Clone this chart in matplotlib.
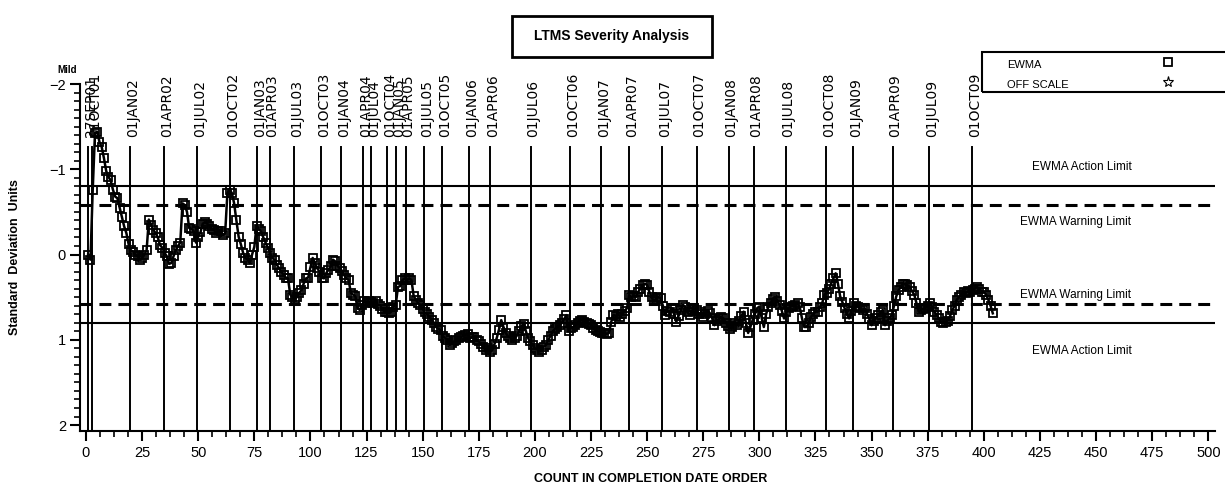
import numpy as np
import matplotlib
matplotlib.use("Agg")
import matplotlib.pyplot as plt
from matplotlib.patches import Rectangle
from matplotlib.lines import Line2D
from matplotlib.ticker import MultipleLocator

# ---------------- data ----------------
ewma = [
    0.00, 0.06, -0.76, -1.42, -1.44, -1.32, -1.26, -1.13, -0.98, -0.91,
    -0.87, -0.76, -0.68, -0.66, -0.55, -0.44, -0.33, -0.25, -0.12, -0.05,
    -0.03, 0.00, 0.02, 0.06, 0.04, 0.00, -0.05, -0.41, -0.35, -0.29,
    -0.25, -0.20, -0.11, -0.08, -0.02, 0.02, 0.11, 0.10, 0.02, -0.05,
    -0.10, -0.14, -0.60, -0.58, -0.50, -0.31, -0.30, -0.27, -0.14, -0.21,
    -0.26, -0.36, -0.38, -0.36, -0.34, -0.30, -0.29, -0.25, -0.27, -0.27,
    -0.23, -0.25, -0.72, -0.76, -0.72, -0.60, -0.40, -0.21, -0.12, -0.02,
    0.04, 0.06, 0.10, 0.00, -0.09, -0.34, -0.30, -0.27, -0.20, -0.14,
    -0.08, -0.02, 0.04, 0.06, 0.12, 0.16, 0.20, 0.24, 0.27, 0.28,
    0.47, 0.50, 0.52, 0.50, 0.45, 0.42, 0.34, 0.28, 0.27, 0.15,
    0.04, 0.10, 0.16, 0.20, 0.27, 0.28, 0.22, 0.18, 0.14, 0.06,
    0.08, 0.13, 0.16, 0.19, 0.24, 0.28, 0.30, 0.45, 0.47, 0.49,
    0.63, 0.65, 0.59, 0.55, 0.57, 0.55, 0.56, 0.57, 0.55, 0.58,
    0.60, 0.64, 0.67, 0.67, 0.69, 0.67, 0.61, 0.59, 0.38, 0.37,
    0.30, 0.28, 0.30, 0.28, 0.30, 0.49, 0.53, 0.57, 0.59, 0.64,
    0.68, 0.70, 0.73, 0.77, 0.80, 0.85, 0.87, 0.89, 0.96, 0.98,
    1.00, 1.06, 1.04, 1.02, 1.00, 0.98, 0.97, 0.95, 0.94, 0.93,
    0.98, 0.97, 0.97, 1.00, 1.02, 1.05, 1.08, 1.12, 1.10, 1.14,
    1.12, 1.05, 0.98, 0.88, 0.77, 0.85, 0.92, 0.96, 0.98, 1.00,
    0.98, 0.95, 0.90, 0.84, 0.81, 0.90, 0.98, 1.02, 1.06, 1.10,
    1.12, 1.14, 1.12, 1.08, 1.06, 1.00, 0.95, 0.90, 0.87, 0.85,
    0.83, 0.80, 0.76, 0.71, 0.90, 0.86, 0.85, 0.83, 0.80, 0.78,
    0.77, 0.79, 0.80, 0.81, 0.83, 0.86, 0.89, 0.90, 0.91, 0.92,
    0.92, 0.93, 0.92, 0.79, 0.71, 0.72, 0.70, 0.73, 0.70, 0.66,
    0.63, 0.48, 0.50, 0.49, 0.50, 0.44, 0.40, 0.36, 0.34, 0.36,
    0.44, 0.50, 0.55, 0.52, 0.50, 0.51, 0.60, 0.71, 0.66, 0.68,
    0.63, 0.70, 0.79, 0.72, 0.65, 0.59, 0.62, 0.68, 0.71, 0.66,
    0.63, 0.65, 0.70, 0.68, 0.73, 0.70, 0.66, 0.69, 0.75, 0.83,
    0.78, 0.76, 0.73, 0.75, 0.80, 0.84, 0.87, 0.85, 0.80, 0.83,
    0.78, 0.72, 0.67, 0.80, 0.92, 0.85, 0.77, 0.70, 0.63, 0.61,
    0.74, 0.85, 0.70, 0.61, 0.57, 0.52, 0.50, 0.54, 0.59, 0.66,
    0.75, 0.68, 0.63, 0.61, 0.60, 0.59, 0.57, 0.62, 0.75, 0.85,
    0.85, 0.80, 0.73, 0.70, 0.67, 0.67, 0.62, 0.57, 0.47, 0.45,
    0.41, 0.34, 0.28, 0.22, 0.34, 0.49, 0.56, 0.63, 0.70, 0.75,
    0.66, 0.57, 0.60, 0.62, 0.63, 0.65, 0.63, 0.70, 0.76, 0.83,
    0.78, 0.74, 0.71, 0.68, 0.65, 0.83, 0.78, 0.74, 0.71, 0.60,
    0.49, 0.42, 0.38, 0.34, 0.35, 0.36, 0.38, 0.43, 0.47, 0.57,
    0.67, 0.65, 0.64, 0.63, 0.60, 0.57, 0.62, 0.67, 0.71, 0.75,
    0.79, 0.80, 0.79, 0.78, 0.72, 0.65, 0.60, 0.53, 0.50, 0.47,
    0.44, 0.45, 0.43, 0.44, 0.42, 0.40, 0.38, 0.41, 0.44, 0.44,
    0.47, 0.53, 0.60, 0.69,
]
count = np.arange(1, len(ewma) + 1)

# calendar reference lines (count position, label)
date_pos = [1.0, 2.8, 19.6, 34.8, 49.6, 64.2, 76.2, 81.9, 92.8, 104.7,
            113.6, 123.6, 127.0, 134.3, 138.1, 142.5, 150.8, 158.6, 170.7, 180.2,
            198.2, 215.7, 229.5, 242.1, 256.7, 272.1, 286.4, 297.5, 311.8, 329.8,
            341.9, 359.5, 375.7, 394.8]
date_lab = ['27SEP01', '01OCT01', '01JAN02', '01APR02', '01JUL02', '01OCT02',
            '01JAN03', '01APR03', '01JUL03', '01OCT03', '01JAN04', '01APR04',
            '01JUL04', '01OCT04', '01JAN05', '01APR05', '01JUL05', '01OCT05',
            '01JAN06', '01APR06', '01JUL06', '01OCT06', '01JAN07', '01APR07',
            '01JUL07', '01OCT07', '01JAN08', '01APR08', '01JUL08', '01OCT08',
            '01JAN09', '01APR09', '01JUL09', '01OCT09']

action_lim = 0.80
warning_lim = 0.585

# ---------------- plot ----------------
plt.rcParams['font.family'] = ['Liberation Sans', 'DejaVu Sans']

W, H = 1225, 491
fig = plt.figure(figsize=(W / 100, H / 100), dpi=100)
ax = fig.add_axes([80 / W, 1 - 431 / H, (1215 - 80) / W, (431 - 84) / H])

ax.set_xlim(-2.67, 503)
ax.set_ylim(2.07, -2.0)

# limit lines
dash = (0, (3.9, 2.3))
ax.axhline(-action_lim, color='k', lw=1.5)
ax.axhline(action_lim, color='k', lw=1.5)
ax.axhline(-warning_lim, color='k', lw=2.2, linestyle=dash)
ax.axhline(warning_lim, color='k', lw=2.2, linestyle=dash)

# date lines and labels
for xp, lab in zip(date_pos, date_lab):
    ax.plot([xp, xp], [-1.26, 2.07], color='k', lw=1.4)
    ax.text(xp + 1.2, -1.38, lab, rotation=90, ha='center', va='bottom',
            fontsize=10, family='DejaVu Sans')

# EWMA series
ax.plot(count, ewma, color='k', lw=1.8, marker='s', ms=6,
        mfc='none', mec='k', mew=1.3)

# limit annotations
ax.text(443.8, -1.03, 'EWMA Action Limit', ha='center', va='center', fontsize=8.5)
ax.text(440.7, -0.38, 'EWMA Warning Limit', ha='center', va='center', fontsize=8.5)
ax.text(440.7, 0.475, 'EWMA Warning Limit', ha='center', va='center', fontsize=8.5)
ax.text(443.8, 1.13, 'EWMA Action Limit', ha='center', va='center', fontsize=8.5)

# axes styling
for s in ['top', 'right']:
    ax.spines[s].set_visible(False)
ax.spines['left'].set_linewidth(1.5)
ax.spines['bottom'].set_linewidth(1.5)
ax.spines['left'].set_bounds(-2, 2.07)
ax.set_yticks([-2, -1, 0, 1, 2])
ax.yaxis.set_minor_locator(MultipleLocator(0.1))
ax.set_xticks(np.arange(0, 501, 25))
ax.xaxis.set_minor_locator(MultipleLocator(6.25))
ax.tick_params(which='major', length=7, width=1.5, labelsize=10.5, pad=4)
ax.tick_params(which='minor', length=4, width=1.2)
ax.tick_params(axis='y', pad=3)

ax.set_xlabel('COUNT IN COMPLETION DATE ORDER', fontsize=9, fontweight='bold',
              va='center')
ax.xaxis.set_label_coords(0.503, -0.138)
fig.text(15 / W, 1 - 257 / H, 'Standard  Deviation  Units', rotation=90,
         ha='center', va='center', fontsize=9, fontweight='bold')
fig.text(67 / W, 1 - 70 / H, 'Mild', ha='center', va='center',
         fontsize=7, fontweight='bold')

# title box
fig.add_artist(Rectangle((512 / W, 1 - 57 / H), 200 / W, 41 / H,
                         transform=fig.transFigure, fill=False, lw=2, color='k'))
fig.text(612 / W, 1 - 36 / H, 'LTMS Severity Analysis', ha='center', va='center',
         fontsize=10, fontweight='bold')

# legend box
fig.add_artist(Rectangle((982 / W, 1 - 92 / H), 260 / W, 40 / H,
                         transform=fig.transFigure, fill=False, lw=1.5, color='k'))
fig.text(1007 / W, 1 - 65 / H, 'EWMA', ha='left', va='center', fontsize=8)
fig.text(1007 / W, 1 - 85 / H, 'OFF SCALE', ha='left', va='center', fontsize=8)
fig.add_artist(Line2D([1168 / W], [1 - 62 / H], marker='s', ms=6, mfc='none',
                      mec='k', mew=1.3, transform=fig.transFigure))
fig.add_artist(Line2D([1168 / W], [1 - 82 / H], marker='*', ms=8, mfc='none',
                      mec='k', mew=0.8, transform=fig.transFigure))

fig.savefig('out.png', dpi=100)
